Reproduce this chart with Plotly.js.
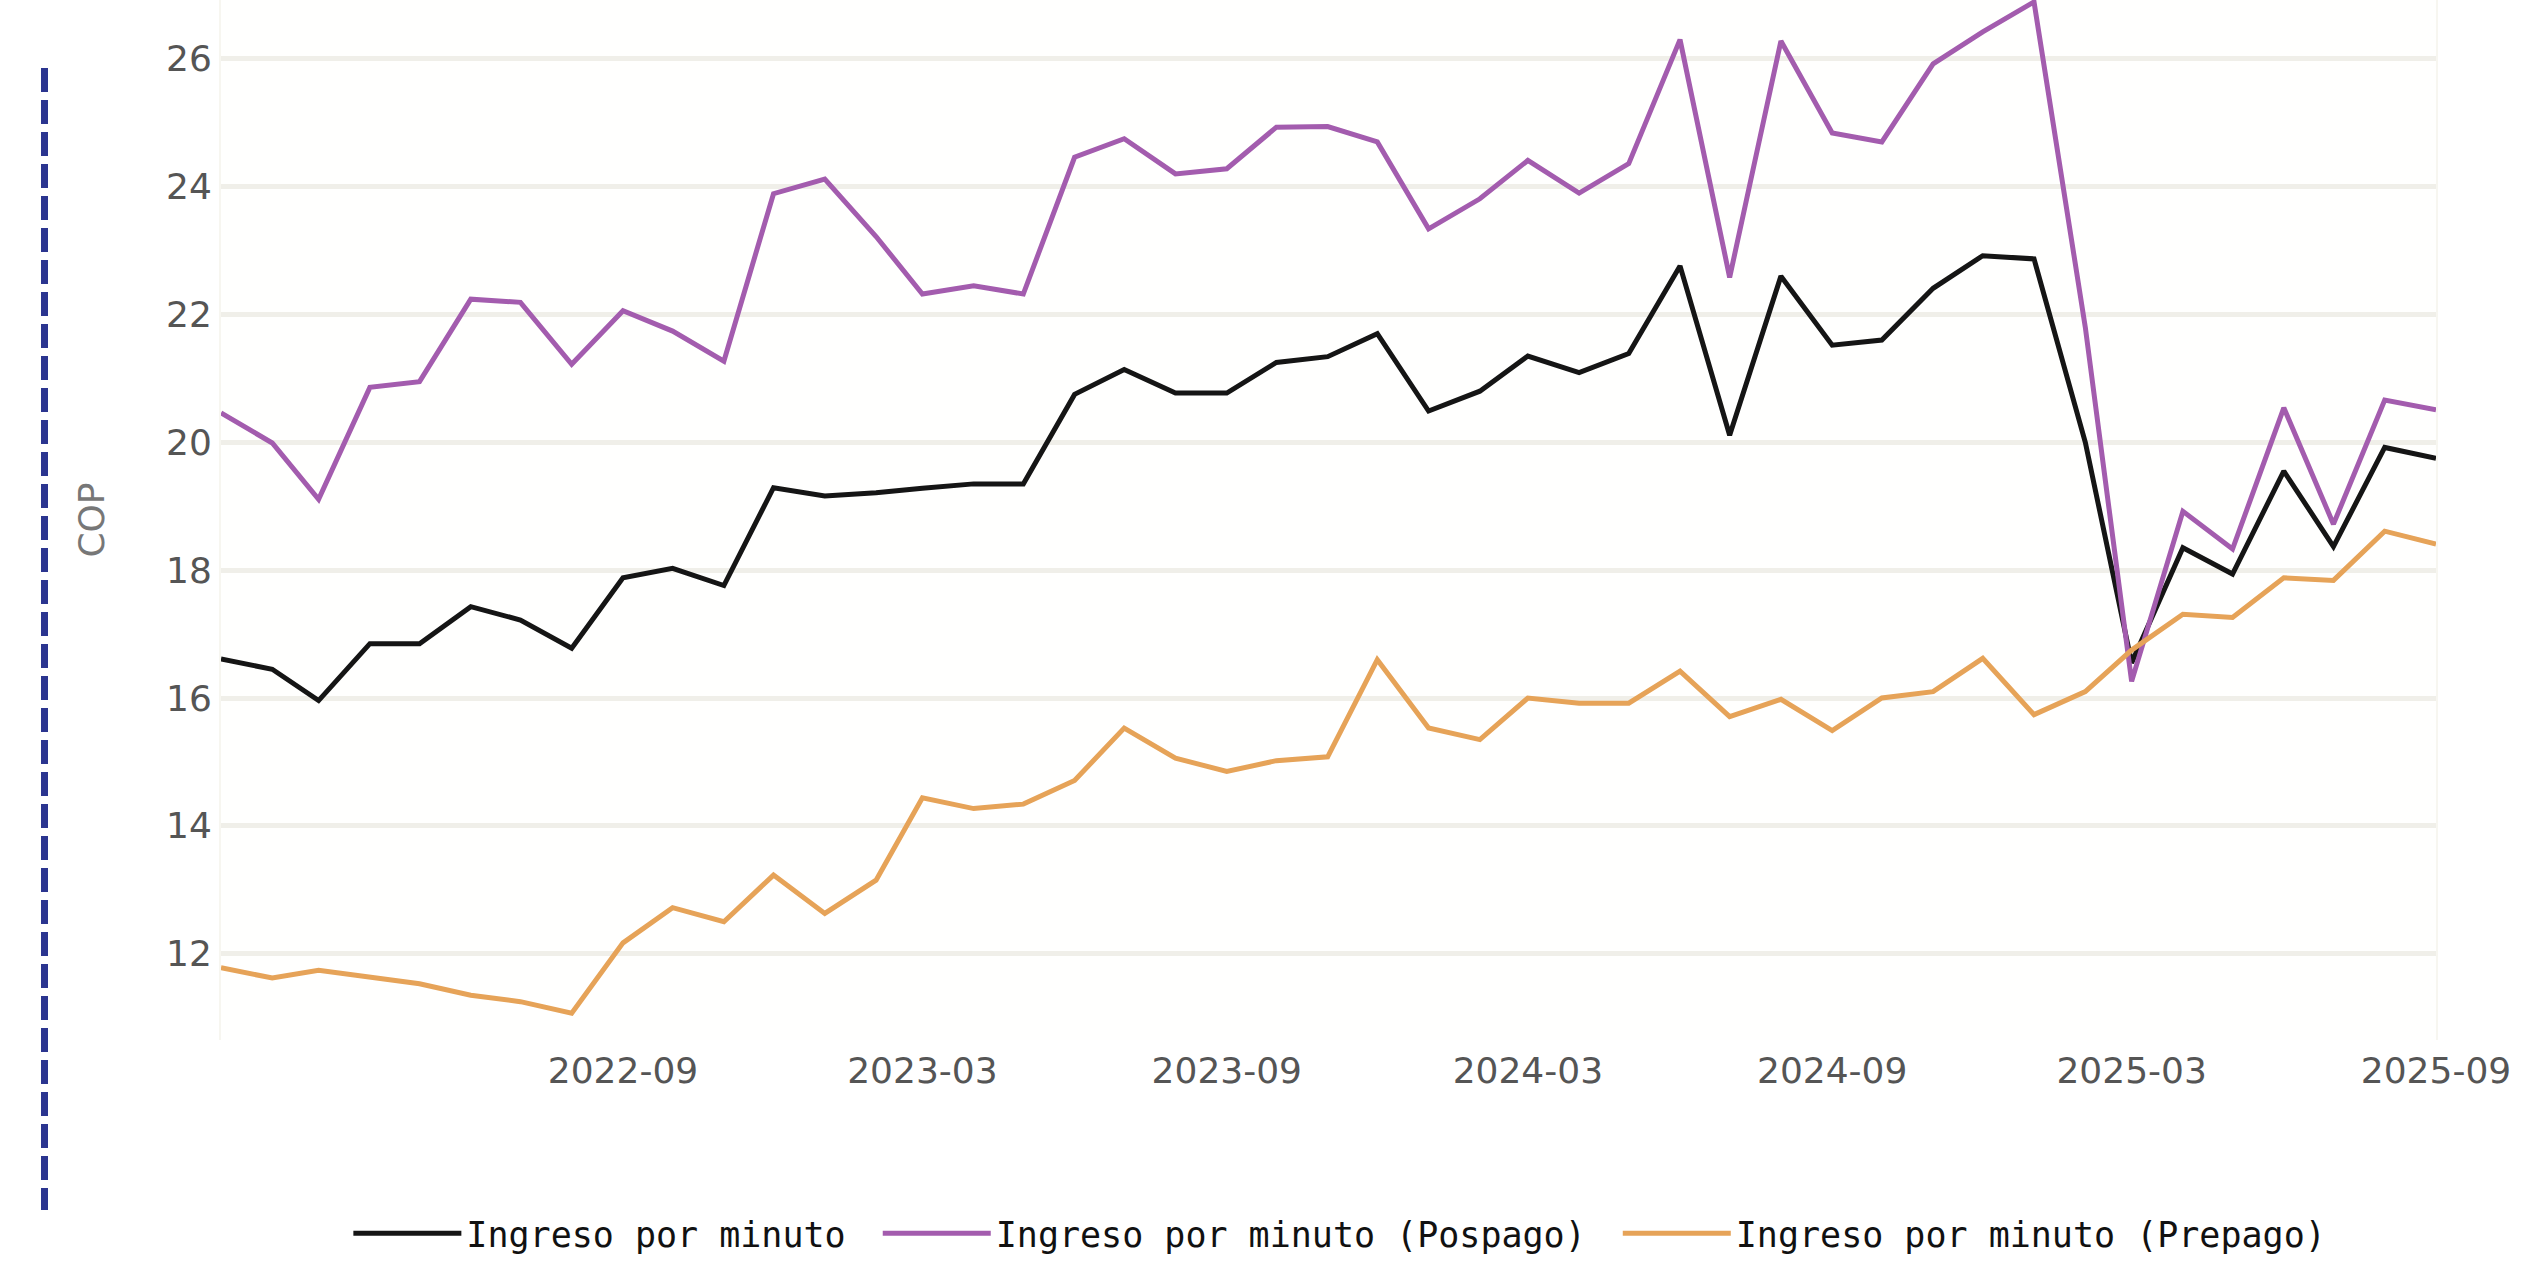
<!DOCTYPE html>
<html>
<head>
<meta charset="utf-8">
<script src="https://cdn.plot.ly/plotly-3.0.1.min.js"></script>
<style>
  html, body { margin: 0; padding: 0; background: #ffffff; }
  #wrap { position: relative; width: 2546px; height: 1263px; overflow: hidden; }
  #chart { position: absolute; left: 0; top: 0; width: 2546px; height: 1263px; }
  #dash { position: absolute; left: 41px; top: 68px; width: 7px; height: 1142px;
          background: repeating-linear-gradient(to bottom, #2b3590 0px, #2b3590 24px, rgba(0,0,0,0) 24px, rgba(0,0,0,0) 32px); }
</style>
</head>
<body>
<div id="wrap">
  <div id="chart"></div>
  <div id="dash"></div>
</div>
<script>
const months = [
  "2022-01-01","2022-02-01","2022-03-01","2022-04-01","2022-05-01","2022-06-01",
  "2022-07-01","2022-08-01","2022-09-01","2022-10-01","2022-11-01","2022-12-01",
  "2023-01-01","2023-02-01","2023-03-01","2023-04-01","2023-05-01","2023-06-01",
  "2023-07-01","2023-08-01","2023-09-01","2023-10-01","2023-11-01","2023-12-01",
  "2024-01-01","2024-02-01","2024-03-01","2024-04-01","2024-05-01","2024-06-01",
  "2024-07-01","2024-08-01","2024-09-01","2024-10-01","2024-11-01","2024-12-01",
  "2025-01-01","2025-02-01","2025-03-01","2025-04-01","2025-05-01","2025-06-01",
  "2025-07-01","2025-08-01","2025-09-01"
];

const ingresoTotal = [
  16.61,16.45,15.96,16.85,16.85,17.43,17.22,16.78,17.88,18.03,17.76,19.29,
  19.16,19.21,19.28,19.35,19.35,20.75,21.14,20.77,20.77,21.25,21.34,21.70,
  20.49,20.80,21.35,21.09,21.39,22.76,20.11,22.60,21.52,21.60,22.41,22.92,
  22.87,20.00,16.55,18.35,17.94,19.55,18.37,19.92,19.75
];

const ingresoPospago = [
  20.46,19.99,19.11,20.86,20.95,22.24,22.19,21.22,22.06,21.74,21.27,23.89,
  24.12,23.22,22.32,22.45,22.32,24.46,24.75,24.20,24.28,24.93,24.94,24.70,
  23.34,23.81,24.41,23.90,24.36,26.30,22.58,26.28,24.84,24.70,25.92,26.42,
  26.89,21.80,16.26,18.92,18.33,20.54,18.72,20.66,20.51
];

const ingresoPrepago = [
  11.78,11.62,11.74,11.63,11.53,11.35,11.25,11.07,12.17,12.72,12.50,13.23,
  12.63,13.15,14.44,14.27,14.34,14.71,15.53,15.06,14.85,15.02,15.08,16.60,
  15.53,15.35,16.00,15.92,15.92,16.42,15.71,15.98,15.49,16.00,16.10,16.62,
  15.74,16.10,16.75,17.31,17.26,17.88,17.84,18.61,18.41
];

const seriesNames = [
  "Ingreso por minuto",
  "Ingreso por minuto (Pospago)",
  "Ingreso por minuto (Prepago)"
];
const xTickValues = ["2022-09-01","2023-03-01","2023-09-01","2024-03-01","2024-09-01","2025-03-01","2025-09-01"];
const yTickValues = [12, 14, 16, 18, 20, 22, 24, 26];
const yAxisTitle = "COP";

const traces = [
  { x: months, y: ingresoTotal, name: seriesNames[0], type: "scatter", mode: "lines",
    legend: "legend", line: { color: "#151515", width: 5 } },
  { x: months, y: ingresoPospago, name: seriesNames[1], type: "scatter", mode: "lines",
    legend: "legend2", line: { color: "#a35cae", width: 5 } },
  { x: months, y: ingresoPrepago, name: seriesNames[2], type: "scatter", mode: "lines",
    legend: "legend3", line: { color: "#e6a358", width: 5 } }
];

const legendFont = { family: "DejaVu Sans Mono, monospace", size: 35, color: "#111111" };
function legendAt(x) {
  return { orientation: "h", x: x, xanchor: "left", y: -0.1865, yanchor: "middle",
           font: legendFont, itemwidth: 108, bgcolor: "rgba(0,0,0,0)" };
}

const layout = {
  width: 2546,
  height: 1263,
  margin: { l: 221, r: 110, t: 0, b: 223 },
  paper_bgcolor: "#ffffff",
  plot_bgcolor: "#fffffe",
  showlegend: true,
  legend: legendAt(0.0575),
  legend2: legendAt(0.2965),
  legend3: legendAt(0.6306),
  xaxis: {
    type: "date",
    range: ["2022-01-01", "2025-09-01"],
    tickmode: "array",
    tickvals: xTickValues,
    tickformat: "%Y-%m",
    showgrid: false,
    zeroline: false,
    showline: false,
    ticks: "",
    ticklabelstandoff: 6,
    tickfont: { family: "DejaVu Sans, sans-serif", size: 36, color: "#555555" }
  },
  yaxis: {
    range: [10.65, 26.92],
    tickvals: yTickValues,
    showgrid: true,
    gridcolor: "#f0efe9",
    gridwidth: 5,
    zeroline: false,
    showline: true,
    mirror: true,
    linecolor: "#f7f6f0",
    linewidth: 2,
    ticks: "",
    tickfont: { family: "DejaVu Sans, sans-serif", size: 36, color: "#555555" },
    title: { text: yAxisTitle, standoff: 50,
             font: { family: "DejaVu Sans, sans-serif", size: 36, color: "#777777" } }
  }
};

Plotly.newPlot("chart", traces, layout, { displayModeBar: false, staticPlot: true });
</script>
</body>
</html>
